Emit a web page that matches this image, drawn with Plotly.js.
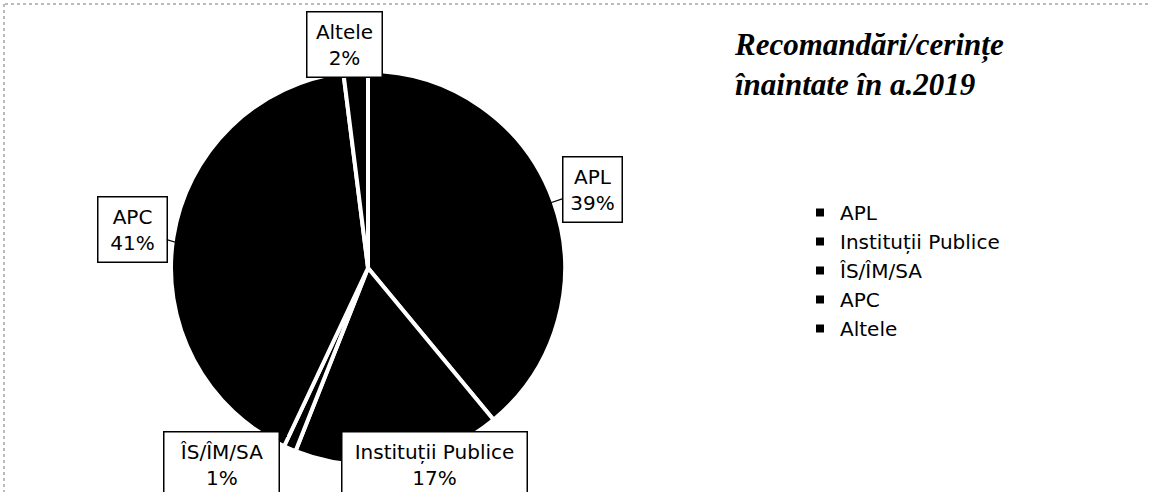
<!DOCTYPE html>
<html>
<head>
<meta charset="utf-8">
<script src="https://cdn.plot.ly/plotly-3.0.1.min.js"></script>
<style>html,body{margin:0;padding:0;background:#fff;}#chart{width:1151px;height:492px;}</style>
</head>
<body>
<div id="chart"></div>
<script>
const categories = ['APL', 'Instituții Publice', 'ÎS/ÎM/SA', 'APC', 'Altele'];
const shares = [39, 17, 1, 41, 2];
const chartTitle = 'Recomandări/cerințe<br>înaintate în a.2019';

const W = 1151, H = 492;
const px = (x) => x / W;
const py = (y) => 1 - y / H;

const data = [{
  type: 'pie',
  labels: categories,
  values: shares,
  sort: false,
  direction: 'clockwise',
  rotation: 0,
  textinfo: 'none',
  hoverinfo: 'label+percent',
  marker: { colors: categories.map(() => '#000000'), line: { color: '#ffffff', width: 4 } },
  domain: { x: [px(368 - 197), px(368 + 197)], y: [py(268 + 197), py(268 - 197)] },
  showlegend: true
}];

function pctText(i) {
  const total = shares.reduce((a, b) => a + b, 0);
  return categories[i] + '<br>' + Math.round(shares[i] / total * 100) + '%';
}

const labelFont = { family: 'DejaVu Sans', size: 20, color: '#000' };
const boxes = [
  // [index, cx, cy, width, height, arrowTipX, arrowTipY]
  [0, 592, 189, 52, 58, 550, 203],
  [1, 434, 464, 178, 58, null, null],
  [2, 221, 464, 108, 58, 287, 436],
  [3, 132, 229, 62, 58, 178, 243],
  [4, 344, 44, 68, 58, null, null]
];
const annotations = boxes.map(b => {
  const [i, cx, cy, w, h, tx, ty] = b;
  const a = {
    text: pctText(i), font: labelFont, align: 'center',
    bgcolor: '#ffffff', bordercolor: '#000000', borderwidth: 1.5, borderpad: 3,
    width: w, height: h, xref: 'paper', yref: 'paper'
  };
  if (tx !== null) {
    Object.assign(a, { x: px(tx), y: py(ty), showarrow: true, arrowhead: 0, arrowwidth: 1.2,
      arrowcolor: '#000', ax: cx - tx, ay: cy - ty, standoff: 0 });
  } else {
    Object.assign(a, { x: px(cx), y: py(cy), showarrow: false, xanchor: 'center', yanchor: 'middle' });
  }
  return a;
});

const layout = {
  width: W, height: H,
  margin: { l: 0, r: 0, t: 0, b: 0 },
  paper_bgcolor: '#ffffff',
  title: {
    text: '<b><i>' + chartTitle + '</i></b>',
    font: { family: 'Liberation Serif', size: 31, color: '#000' },
    xref: 'container', yref: 'container',
    x: px(735), xanchor: 'left', y: py(55), yanchor: 'top'
  },
  legend: {
    x: px(800), y: py(193), xanchor: 'left', yanchor: 'top',
    font: { family: 'DejaVu Sans', size: 20, color: '#000' },
    bgcolor: 'rgba(0,0,0,0)', traceorder: 'normal'
  },
  annotations: annotations,
  shapes: [
    { type: 'line', xref: 'paper', yref: 'paper', x0: px(5), x1: px(1151), y0: py(4), y1: py(4), line: { color: '#777', width: 1, dash: 'dot' } },
    { type: 'line', xref: 'paper', yref: 'paper', x0: px(4), x1: px(4), y0: py(4), y1: py(492), line: { color: '#777', width: 1, dash: 'dot' } }
  ]
};

Plotly.newPlot('chart', data, layout, { displayModeBar: false, staticPlot: true });
</script>
</body>
</html>
